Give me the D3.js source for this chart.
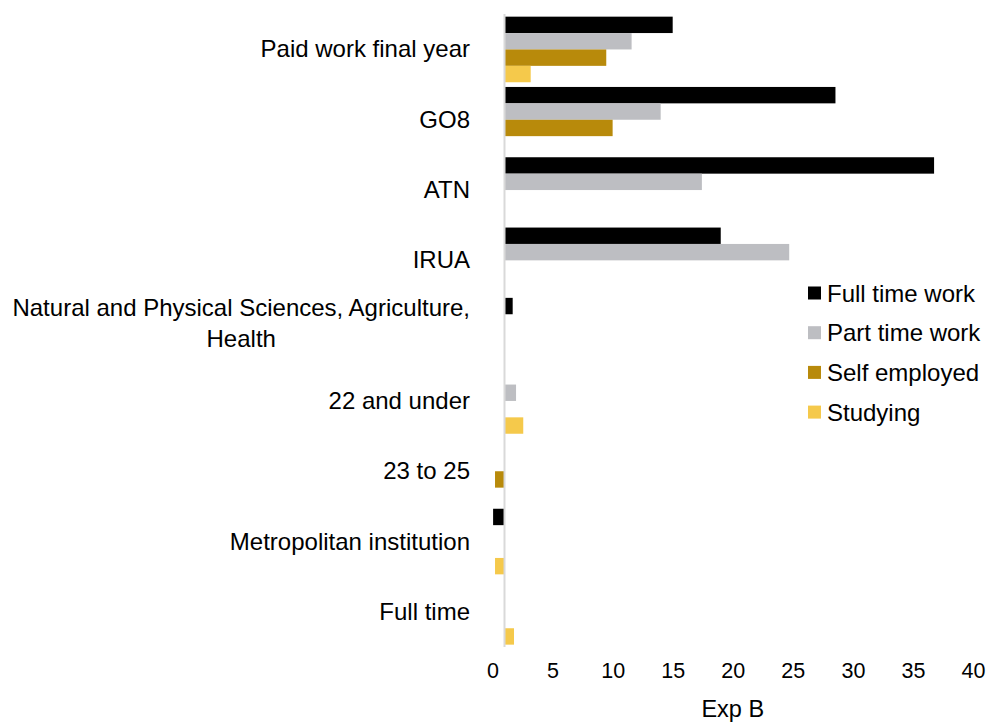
<!DOCTYPE html>
<html>
<head>
<meta charset="utf-8">
<script src="https://cdn.jsdelivr.net/npm/d3@7"></script>
<style>
  html, body { margin: 0; padding: 0; background: #ffffff; }
  svg { display: block; font-family: "Liberation Sans", Arial, sans-serif; }
</style>
</head>
<body>
<svg id="chart" width="990" height="722"></svg>
<script>
const categories = [
  "Paid work final year",
  "GO8",
  "ATN",
  "IRUA",
  "Natural and Physical Sciences, Agriculture, Health",
  "22 and under",
  "23 to 25",
  "Metropolitan institution",
  "Full time"
];
const seriesNames = ["Full time work", "Part time work", "Self employed", "Studying"];
const fullTimeWork = [15.0, 28.55, 36.76, 19.0, 1.68, null, null, 0.05, null];
const partTimeWork = [11.58, 14.0, 17.43, 24.7, null, 1.96, null, null, null];
const selfEmployed = [9.47, 10.0, null, null, null, null, 0.21, null, null];
const studying = [3.18, null, null, null, null, 2.56, null, 0.21, 1.79];
const xTicks = [0, 5, 10, 15, 20, 25, 30, 35, 40];
const baselineValue = 1;
const xTitle = "Exp B";
const colors = ["#000000", "#bdbec2", "#b88a0b", "#f5c94b"];

const seriesValues = [fullTimeWork, partTimeWork, selfEmployed, studying];

const svg = d3.select("#chart");

const x = d3.scaleLinear().domain([0, 40]).range([492.5, 973]);
const y = d3.scaleBand().domain(categories).range([14.3, 647])
  .paddingInner(0.067).paddingOuter(0.0335);
const ySub = d3.scaleBand().domain(seriesNames).range([0, y.bandwidth()]);

// bars
seriesNames.forEach((s, si) => {
  const rows = categories.map((c, ci) => ({ c, v: seriesValues[si][ci] }))
    .filter(d => d.v !== null);
  svg.append("g").selectAll("rect").data(rows).join("rect")
    .attr("x", d => Math.min(x(baselineValue), x(d.v)))
    .attr("width", d => Math.abs(x(d.v) - x(baselineValue)))
    .attr("y", d => y(d.c) + ySub(s))
    .attr("height", ySub.bandwidth())
    .attr("fill", colors[si]);
});

// vertical axis line at baseline
svg.append("line")
  .attr("x1", x(baselineValue)).attr("x2", x(baselineValue))
  .attr("y1", 14).attr("y2", 647)
  .attr("stroke", "#d9d9d9").attr("stroke-width", 2);

// category labels
const labelG = svg.append("g").attr("font-size", 24).attr("fill", "#000");
categories.forEach(c => {
  const cy = y(c) + y.bandwidth() / 2;
  if (c.startsWith("Natural")) {
    const t1 = labelG.append("text").attr("x", 470).attr("y", cy - 15)
      .attr("text-anchor", "end").text("Natural and Physical Sciences, Agriculture,");
    const w = t1.node().getComputedTextLength();
    labelG.append("text").attr("x", 470 - w / 2).attr("y", cy + 16)
      .attr("text-anchor", "middle").text("Health");
  } else {
    labelG.append("text").attr("x", 470).attr("y", cy + 8)
      .attr("text-anchor", "end").text(c);
  }
});

// x ticks
const axisG = svg.append("g").attr("transform", "translate(0,647)")
  .call(d3.axisBottom(x).tickValues(xTicks).tickSize(0).tickPadding(16));
axisG.select(".domain").remove();
axisG.selectAll("text").attr("font-size", 21.5).attr("fill", "#000")
  .attr("font-family", "'Liberation Sans', Arial, sans-serif");

svg.append("text").attr("x", (x(0) + x(40)) / 2).attr("y", 717)
  .attr("text-anchor", "middle").attr("font-size", 23.5).text(xTitle);

// legend
const legend = svg.append("g");
seriesNames.forEach((s, i) => {
  const ly = 293 + i * 39.7;
  legend.append("rect").attr("x", 808).attr("y", ly - 6.5)
    .attr("width", 13).attr("height", 13).attr("fill", colors[i]);
  legend.append("text").attr("x", 827).attr("y", ly + 8.5)
    .attr("font-size", 24).text(s);
});
</script>
</body>
</html>
